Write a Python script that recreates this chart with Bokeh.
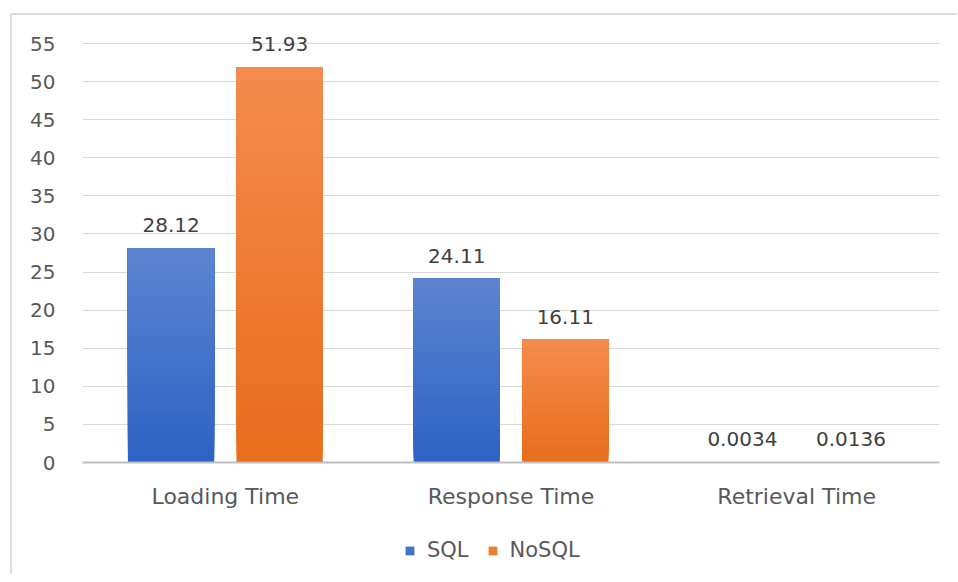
from bokeh.plotting import figure
from bokeh.layouts import column
from bokeh.models import FactorRange, Range1d, ColumnDataSource, Legend, LegendItem, FixedTicker
from bokeh.transform import dodge
from bokeh.core.properties import value
from bokeh.embed import file_html
from bokeh.resources import INLINE

categories = ["Loading Time", "Response Time", "Retrieval Time"]
sql = [28.12, 24.11, 0.0034]
nosql = [51.93, 16.11, 0.0136]
sql_labels = ["28.12", "24.11", "0.0034"]
nosql_labels = ["51.93", "16.11", "0.0136"]
y_ticks = [0, 5, 10, 15, 20, 25, 30, 35, 40, 45, 50, 55]

FONT = "DejaVu Sans"
TXT = "#595959"

# frame: value 0 at page y=462, 55 at page y=43; plot top at page y=15
Y_TOP = 55 * (462 - 15) / (462 - 43)

p = figure(x_range=FactorRange(factors=categories), y_range=Range1d(0, Y_TOP),
           width=945, height=507, output_backend="svg", toolbar_location=None,
           min_border_left=70, min_border_right=18, min_border_top=0, min_border_bottom=60)
p.outline_line_color = None
p.background_fill_color = "white"
p.border_fill_color = "white"

def hexmix(c1, c2, t):
    a = [int(c1[i:i+2], 16) for i in (1, 3, 5)]
    b = [int(c2[i:i+2], 16) for i in (1, 3, 5)]
    return "#%02x%02x%02x" % tuple(round(a[k] + (b[k] - a[k]) * t) for k in range(3))

N = 40
series = [(sql, -0.19, "#2e62c4", "#5c84d1"), (nosql, 0.19, "#e76e1c", "#f48b4d")]
for vals, off, cbot, ctop in series:
    for k in range(N):
        src = ColumnDataSource(dict(
            x=categories,
            bottom=[v * k / N for v in vals],
            top=vals,
        ))
        p.vbar(x=dodge("x", off, range=p.x_range), bottom="bottom", top="top", width=0.302,
               source=src, fill_color=hexmix(cbot, ctop, k / (N - 1)), line_color=None)

for vals, labels, off in [(sql, sql_labels, -0.19), (nosql, nosql_labels, 0.19)]:
    src = ColumnDataSource(dict(x=categories, y=vals, t=labels))
    p.text(x=dodge("x", off, range=p.x_range), y="y", text="t", source=src,
           text_align="center", text_baseline="bottom", y_offset=-16,
           text_font=value(FONT), text_font_size="20px", text_color="#404040")

p.xgrid.grid_line_color = None
p.ygrid.grid_line_color = "#d9d9d9"
p.ygrid.grid_line_width = 1
p.yaxis.ticker = FixedTicker(ticks=y_ticks)
p.yaxis.axis_line_color = None
p.yaxis.major_tick_line_color = None
p.yaxis.minor_tick_line_color = None
p.yaxis.major_tick_out = 0
p.yaxis.major_tick_in = 0
p.yaxis.major_label_standoff = 27
p.yaxis.major_label_text_font = FONT
p.yaxis.major_label_text_font_size = "20px"
p.yaxis.major_label_text_color = TXT

p.xaxis.axis_line_color = "#bfbfbf"
p.xaxis.axis_line_width = 2
p.xaxis.major_tick_line_color = None
p.xaxis.minor_tick_line_color = None
p.xaxis.major_tick_out = 0
p.xaxis.major_tick_in = 0
p.xaxis.major_label_standoff = 21
p.xaxis.major_label_text_font = FONT
p.xaxis.major_label_text_font_size = "22px"
p.xaxis.major_label_text_color = TXT

# legend figure
lg = figure(width=945, height=52, output_backend="svg", toolbar_location=None,
            x_range=Range1d(0, 1), y_range=Range1d(0, 1),
            x_axis_location=None, y_axis_location=None,
            min_border_left=0, min_border_right=0, min_border_top=0, min_border_bottom=0)
lg.outline_line_color = None
lg.xgrid.grid_line_color = None
lg.ygrid.grid_line_color = None
lsrc = ColumnDataSource(dict(x=[0.5], top=[0]))
r_sql = lg.vbar(x="x", top="top", width=0, source=lsrc, fill_color="#4472c4", line_color=None)
r_nosql = lg.vbar(x="x", top="top", width=0, source=lsrc, fill_color="#ed7d31", line_color=None)
legend = Legend(items=[LegendItem(label="SQL", renderers=[r_sql]),
                       LegendItem(label="NoSQL", renderers=[r_nosql])],
                orientation="horizontal", location=(322, 12),
                label_text_font=FONT, label_text_font_size="21px", label_text_color=TXT,
                glyph_width=11, glyph_height=11, spacing=18, label_standoff=12,
                border_line_color=None, background_fill_alpha=0, margin=0, padding=0)
lg.add_layout(legend, "center")

layout = column(p, lg, spacing=0,
                styles={"margin-left": "10px", "margin-top": "13px",
                        "border-left": "2px solid #dcdcdc", "border-top": "2px solid #dcdcdc"})
open("out.html", "w").write(file_html(layout, INLINE))
